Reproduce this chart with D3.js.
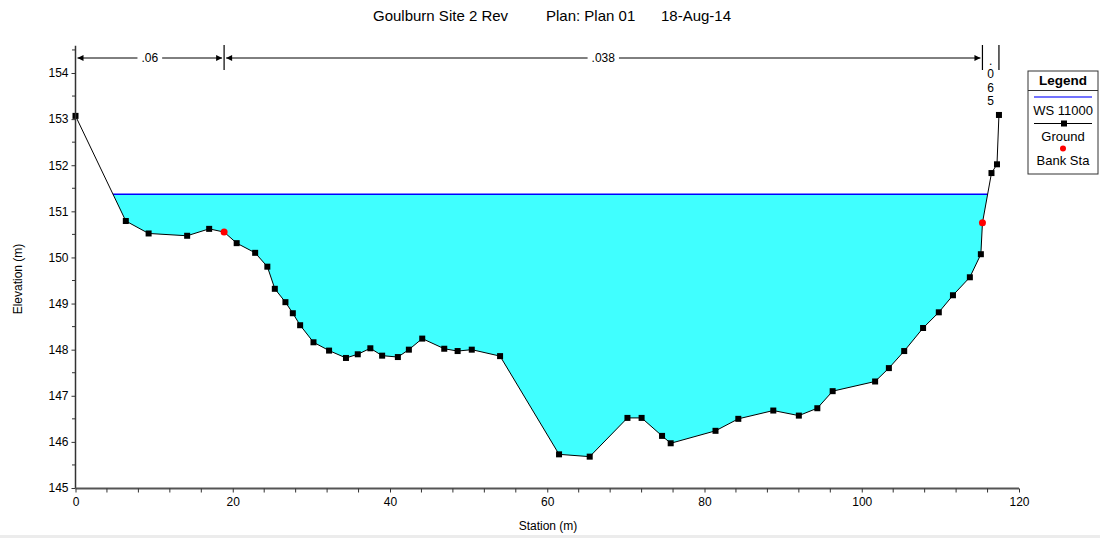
<!DOCTYPE html>
<html><head><meta charset="utf-8">
<script src="https://cdn.jsdelivr.net/npm/d3@7"></script>
<style>body{margin:0;background:#fff;} svg{display:block;font-family:"Liberation Sans",Arial,sans-serif;}</style>
</head><body>
<svg id="c" width="1100" height="538"></svg>
<script>
// ---- data ----
const stations = [0, 6.4, 9.3, 14.2, 17.0, 18.9, 20.5, 22.85, 24.4, 25.35, 26.7, 27.64, 28.57, 30.27, 32.25, 34.4, 35.9, 37.5, 39.0, 41.0, 42.4, 44.1, 46.9, 48.6, 50.4, 54.0, 61.5, 65.4, 70.2, 72.0, 74.6, 75.7, 81.4, 84.3, 88.75, 92.0, 94.35, 96.3, 101.7, 103.45, 105.4, 107.8, 109.8, 111.6, 113.75, 115.15, 115.35, 116.5, 117.2, 117.45];
const elevations = [153.07, 150.79, 150.52, 150.47, 150.62, 150.55, 150.31, 150.10, 149.80, 149.32, 149.03, 148.79, 148.53, 148.16, 147.98, 147.82, 147.90, 148.03, 147.87, 147.84, 148.00, 148.24, 148.02, 147.97, 148.00, 147.86, 145.73, 145.68, 146.52, 146.52, 146.13, 145.97, 146.24, 146.50, 146.68, 146.57, 146.73, 147.10, 147.31, 147.60, 147.97, 148.47, 148.81, 149.18, 149.57, 150.07, 150.75, 151.83, 152.02, 153.09];
const bankStations = [18.9, 115.35];
const bankElevations = [150.55, 150.75];
const wsElevation = 151.37;
const nValues = [".06", ".038", ".065"];
const nBreaks = [0, 18.9, 115.35, 117.45];
const xTicks = [0, 20, 40, 60, 80, 100, 120];
const yTicks = [145, 146, 147, 148, 149, 150, 151, 152, 153, 154];
const titleParts = ["Goulburn Site 2 Rev", "Plan: Plan 01", "18-Aug-14"];
const legendItems = ["WS 11000", "Ground", "Bank Sta"];

const svg = d3.select("#c");
const x = d3.scaleLinear().domain([0, 120]).range([75.5, 1019]);
const y = d3.scaleLinear().domain([145, 154]).range([488, 73]);
const ground = stations.map((s, i) => [s, elevations[i]]);

// title
const tx = [373, 546, 661];
titleParts.forEach((t, i) => svg.append("text").attr("x", tx[i]).attr("y", 21).attr("font-size", 15).attr("fill", "#000").text(t));

// water polygon: find crossings
function crossings() {
  const res = [];
  for (let i = 0; i < ground.length - 1; i++) {
    const [s0, e0] = ground[i], [s1, e1] = ground[i + 1];
    if ((e0 - wsElevation) * (e1 - wsElevation) < 0) {
      const t = (wsElevation - e0) / (e1 - e0);
      res.push({ i, s: s0 + t * (s1 - s0) });
    }
  }
  return res;
}
const cr = crossings();
const L = cr[0], R = cr[cr.length - 1];
const poly = [[L.s, wsElevation]];
for (let i = L.i + 1; i <= R.i; i++) poly.push(ground[i]);
poly.push([R.s, wsElevation]);
svg.append("path")
  .attr("d", d3.line().x(d => x(d[0])).y(d => y(d[1]))(poly) + "Z")
  .attr("fill", "#40ffff").attr("stroke", "none");
svg.append("line").attr("x1", x(L.s)).attr("x2", x(R.s)).attr("y1", y(wsElevation)).attr("y2", y(wsElevation))
  .attr("stroke", "#0000ff").attr("stroke-width", 1.5);

// ground line
svg.append("path").attr("d", d3.line().x(d => x(d[0])).y(d => y(d[1]))(ground))
  .attr("fill", "none").attr("stroke", "#000").attr("stroke-width", 1);
svg.selectAll("rect.g").data(ground.filter(d => !bankStations.includes(d[0]))).join("rect")
  .attr("x", d => x(d[0]) - 3).attr("y", d => y(d[1]) - 3).attr("width", 6).attr("height", 6).attr("fill", "#000");
svg.selectAll("circle.b").data(bankStations).join("circle")
  .attr("cx", d => x(d)).attr("cy", (d, i) => y(bankElevations[i])).attr("r", 3.5).attr("fill", "#ff0000");

// axes
const axisColor = "#333";
svg.append("line").attr("x1", 75.5).attr("x2", 75.5).attr("y1", y(154.59)).attr("y2", 488).attr("stroke", axisColor).attr("stroke-width", 1.5);
svg.append("line").attr("x1", 75.5).attr("x2", x(120)).attr("y1", 488.5).attr("y2", 488.5).attr("stroke", "#555").attr("stroke-width", 2);
const yAxis = d3.axisLeft(y).tickValues(yTicks).tickSize(4).tickFormat(d3.format("d"));
const gy = svg.append("g").attr("transform", "translate(75.5,0)").call(yAxis);
gy.select(".domain").remove();
gy.selectAll("text").attr("font-size", 12).attr("fill", "#000").attr("font-family", "Liberation Sans, Arial");
gy.selectAll("line").attr("stroke", axisColor);
const yMinor = d3.range(145.5, 154.6, 1);
svg.selectAll("line.ym").data(yMinor).join("line").attr("x1", 72).attr("x2", 75.5)
  .attr("y1", d => y(d)).attr("y2", d => y(d)).attr("stroke", axisColor);
const xAxis = d3.axisBottom(x).tickValues(xTicks).tickSize(4).tickFormat(d3.format("d"));
const gx = svg.append("g").attr("transform", "translate(0,488.5)").call(xAxis);
gx.select(".domain").remove();
gx.selectAll("text").attr("font-size", 12).attr("fill", "#000").attr("font-family", "Liberation Sans, Arial").attr("dy", "0.9em");
gx.selectAll("line").attr("stroke", axisColor);
const xMinor = d3.range(4, 120, 4).filter(v => v % 20 !== 0);
svg.selectAll("line.xm").data(xMinor).join("line").attr("x1", d => x(d)).attr("x2", d => x(d))
  .attr("y1", 488.5).attr("y2", 492.5).attr("stroke", axisColor);

svg.append("text").attr("transform", "translate(22,279) rotate(-90)").attr("text-anchor", "middle")
  .attr("font-size", 12).attr("fill", "#000").text("Elevation (m)");
svg.append("text").attr("x", 548).attr("y", 530).attr("text-anchor", "middle")
  .attr("font-size", 12).attr("fill", "#000").text("Station (m)");

// n-value bars
const nY = 58;
function arrow(g, px, dir) {
  const p = `M${px},${nY} L${px - dir * 6},${nY - 3} L${px - dir * 6},${nY + 3} Z`;
  g.append("path").attr("d", p).attr("fill", "#000");
}
[nBreaks[1], nBreaks[2], nBreaks[3]].forEach(b => {
  svg.append("line").attr("x1", x(b)).attr("x2", x(b)).attr("y1", 45).attr("y2", 70).attr("stroke", "#000").attr("stroke-width", 1.2);
});
function span(a, b, label) {
  const g = svg.append("g");
  const xa = x(a) + 2, xb = x(b) - 2;
  g.append("line").attr("x1", xa).attr("x2", xb).attr("y1", nY).attr("y2", nY).attr("stroke", "#000");
  arrow(g, xa, -1); arrow(g, xb, 1);
  const cx = (xa + xb) / 2;
  const bg = g.append("rect").attr("fill", "#fff");
  const t = g.append("text").attr("x", cx).attr("y", nY + 4).attr("text-anchor", "middle").attr("font-size", 12).attr("fill", "#000").text(label);
  const w = t.node().getComputedTextLength();
  bg.attr("x", cx - w / 2 - 4).attr("y", nY - 3).attr("width", w + 8).attr("height", 6);
}
span(nBreaks[0], nBreaks[1], nValues[0]);
span(nBreaks[1], nBreaks[2], nValues[1]);
// narrow .065 label stacked vertically (one text element)
const chars = nValues[2].split("");
const cx3 = (x(nBreaks[2]) + x(nBreaks[3])) / 2;
const dys = [0, 13, 14, 13.5];
const vt = svg.append("text").attr("y", 64.5).attr("text-anchor", "middle").attr("font-size", 12).attr("fill", "#000");
chars.forEach((c, i) => vt.append("tspan").attr("x", cx3).attr("dy", dys[i]).text(c));

// legend
const lg = svg.append("g");
lg.append("rect").attr("x", 1028).attr("y", 71).attr("width", 70).attr("height", 103).attr("fill", "#fff").attr("stroke", "#333");
lg.append("line").attr("x1", 1028).attr("x2", 1098).attr("y1", 90.5).attr("y2", 90.5).attr("stroke", "#333");
lg.append("text").attr("x", 1063).attr("y", 85).attr("text-anchor", "middle").attr("font-size", 13.5).attr("font-weight", "bold").attr("fill", "#000").text("Legend");
lg.append("line").attr("x1", 1034).attr("x2", 1092).attr("y1", 97).attr("y2", 97).attr("stroke", "#4444ff").attr("stroke-width", 1.5);
lg.append("text").attr("x", 1063).attr("y", 114.5).attr("text-anchor", "middle").attr("font-size", 13).attr("fill", "#000").text(legendItems[0]);
lg.append("line").attr("x1", 1034).attr("x2", 1092).attr("y1", 123.5).attr("y2", 123.5).attr("stroke", "#000");
lg.append("rect").attr("x", 1061).attr("y", 120.5).attr("width", 6).attr("height", 6).attr("fill", "#000");
lg.append("text").attr("x", 1063).attr("y", 140.5).attr("text-anchor", "middle").attr("font-size", 13).attr("fill", "#000").text(legendItems[1]);
lg.append("circle").attr("cx", 1063).attr("cy", 148.5).attr("r", 3).attr("fill", "#ff0000");
lg.append("text").attr("x", 1063).attr("y", 165).attr("text-anchor", "middle").attr("font-size", 13).attr("fill", "#000").text(legendItems[2]);

svg.append("rect").attr("x", 0).attr("y", 535).attr("width", 1100).attr("height", 3).attr("fill", "#ececec");
</script>
</body></html>
